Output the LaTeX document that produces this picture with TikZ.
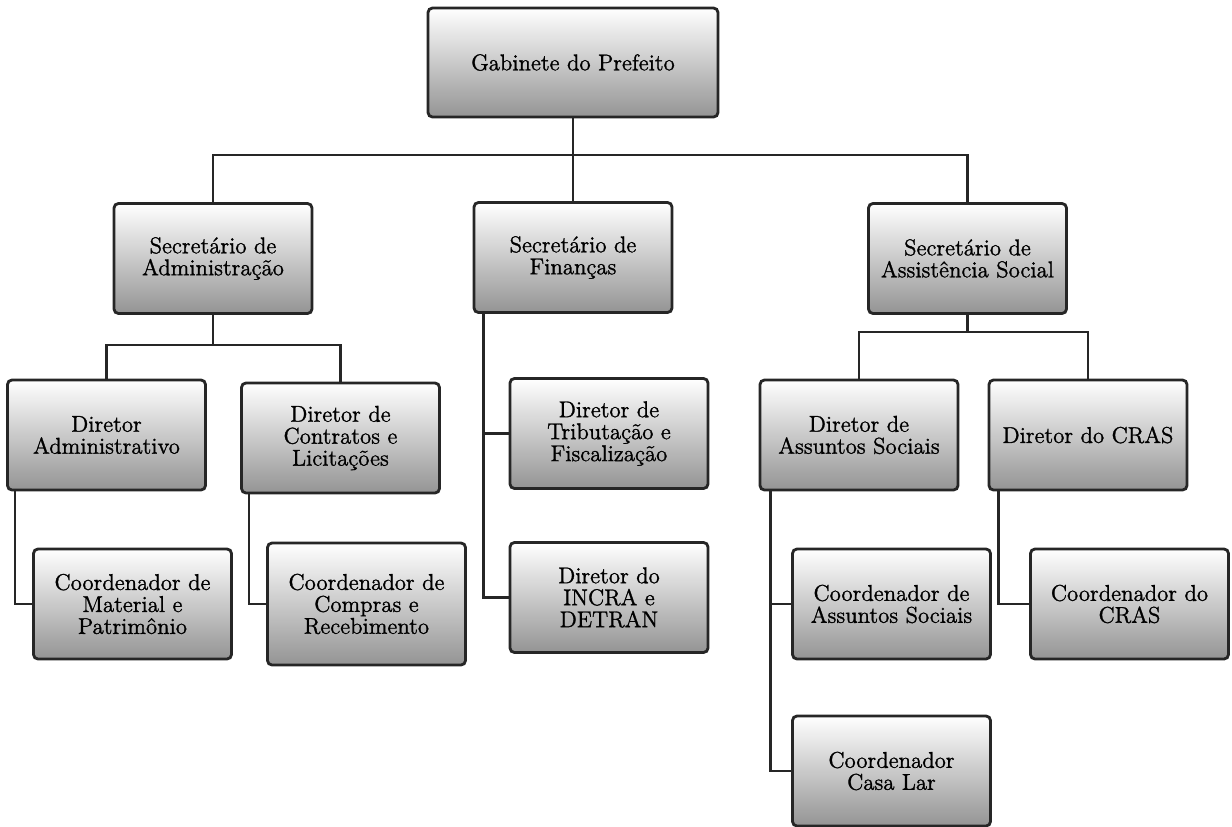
\documentclass[tikz,border=0pt]{standalone}
\usepackage{fontspec}
\setmainfont{Latin Modern Roman}[FakeBold=1.2]
\begin{document}
\begin{tikzpicture}[x=0.02cm, y=-0.02cm, font=\fontsize{13}{12.5}\selectfont]
        \tikzset{box/.style={draw=black!85, line width=1.6pt, rounded corners=2.5pt, top color=white, bottom color=black!42, minimum width=3.96cm, minimum height=2.2cm, align=center, inner sep=2pt},
                 link/.style={draw=black!85, line width=1.4pt}}
        \useasboundingbox (0,0) rectangle (1232,826);

        \node[box, minimum width=5.8cm, minimum height=2.18cm] (gab) at (573,62.5) {Gabinete do Prefeito};

        \node[box] (secadm) at (213,258.5) {Secretário de\\Administração};
        \node[box] (secfin) at (573,257.5) {Secretário de\\Finanças};
        \node[box] (secass) at (967.5,258.5) {Secretário de\\Assistência Social};

        \node[box] (diradm) at (106.5,435) {Diretor\\Administrativo};
        \node[box] (dircon) at (340.5,438) {Diretor de\\Contratos e\\Licitações};
        \node[box] (coomat) at (132.5,604) {Coordenador de\\Material e\\Patrimônio};
        \node[box, minimum height=2.44cm] (coocom) at (366.5,604) {Coordenador de\\Compras e\\Recebimento};

        \node[box] (dirtri) at (609,433.5) {Diretor de\\Tributação e\\Fiscalização};
        \node[box] (dirinc) at (609,597.5) {Diretor do\\INCRA e\\DETRAN};

        \node[box] (dirass) at (859,435) {Diretor de\\Assuntos Sociais};
        \node[box] (dircras) at (1088,435) {Diretor do CRAS};
        \node[box] (cooass) at (891.5,604) {Coordenador de\\Assuntos Sociais};
        \node[box] (coolar) at (891.5,771) {Coordenador\\Casa Lar};
        \node[box] (coocras) at (1129.5,604) {Coordenador do\\CRAS};

        \coordinate (bus) at (573,155);
        \coordinate (admbus) at (213,345);
        \coordinate (assbus) at (967.5,332);

        \draw[link] (gab.south) -- (bus) -| (secadm.north);
        \draw[link] (bus) -| (secass.north);
        \draw[link] (bus) -- (secfin.north);

        \draw[link] (secadm.south) -- (admbus) -| (diradm.north);
        \draw[link] (admbus) -| (dircon.north);
        \draw[link] ([xshift=0.18cm]diradm.south west) |- (coomat.west);
        \draw[link] ([xshift=0.18cm]dircon.south west) |- (coocom.west);

        \draw[link] ([xshift=0.22cm]secfin.south west) |- (dirinc.west);
        \draw[link] ([xshift=0.22cm]secfin.south west) |- (dirtri.west);

        \draw[link] (secass.south) -- (assbus) -| (dirass.north);
        \draw[link] (assbus) -| (dircras.north);
        \draw[link] ([xshift=0.24cm]dirass.south west) |- (coolar.west);
        \draw[link] ([xshift=0.24cm]dirass.south west) |- (cooass.west);
        \draw[link] ([xshift=0.22cm]dircras.south west) |- (coocras.west);
    \end{tikzpicture}
\end{document}
